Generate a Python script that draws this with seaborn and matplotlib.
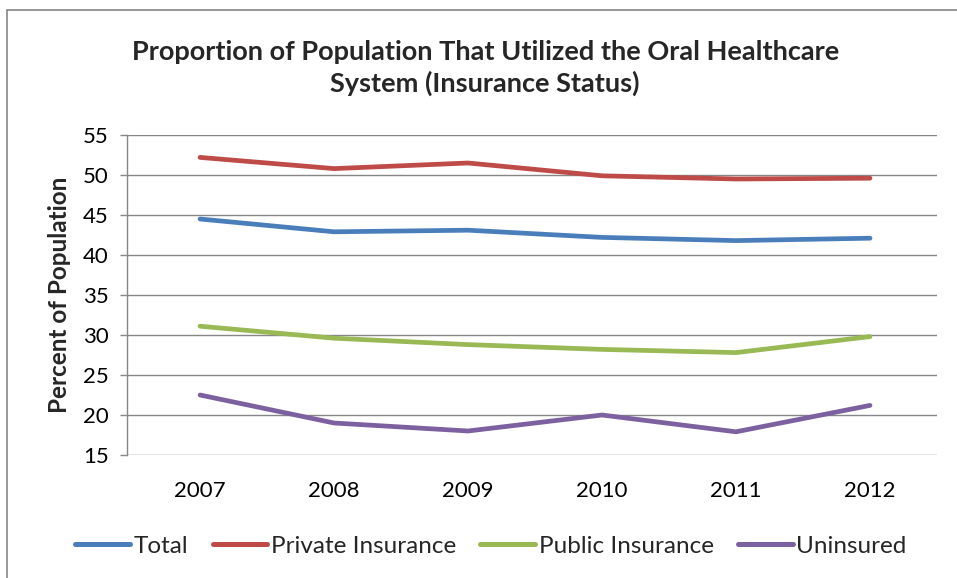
import matplotlib
matplotlib.use("Agg")
import matplotlib.pyplot as plt
import seaborn as sns
import pandas as pd
from matplotlib.patches import Rectangle
from matplotlib.lines import Line2D

years = ["2007", "2008", "2009", "2010", "2011", "2012"]
total = [44.5, 42.9, 43.1, 42.2, 41.8, 42.1]
private = [52.2, 50.8, 51.5, 49.9, 49.5, 49.6]
public = [31.1, 29.6, 28.8, 28.2, 27.8, 29.8]
uninsured = [22.5, 19.0, 18.0, 20.0, 17.9, 21.2]

series_names = ["Total", "Private Insurance", "Public Insurance", "Uninsured"]
colors = ["#4A7EBB", "#BE4B48", "#98B954", "#7D60A0"]

rows = []
for name, vals in zip(series_names, [total, private, public, uninsured]):
    for y, v in zip(years, vals):
        rows.append({"Year": y, "Value": v, "Series": name})
df = pd.DataFrame(rows)

sns.set_theme(style="white")
plt.rcParams["font.family"] = ["Lato", "DejaVu Sans"]

fig = plt.figure(figsize=(9.57, 5.78), dpi=100)
ax = fig.add_axes([127/957, 1-455/578, (937-127)/957, (455-135)/578])

sns.lineplot(data=df, x="Year", y="Value", hue="Series", palette=colors,
             hue_order=series_names, linewidth=3.4, ax=ax, legend=False,
             solid_capstyle="round")

ax.set_ylim(15, 55)
ax.set_yticks(range(15, 56, 5))
ax.set_xlim(-0.545, 5.5)
ax.grid(axis="y", color="#868686", linewidth=1.0)
ax.set_axisbelow(True)
for s in ["top", "right", "bottom"]:
    ax.spines[s].set_visible(False)
ax.spines["left"].set_color("#868686")
ax.spines["left"].set_linewidth(1.0)
ax.tick_params(axis="y", which="major", left=True, length=5, width=1.0,
               color="#868686", labelsize=16, pad=8, labelcolor="black")
ax.tick_params(axis="x", bottom=False, labelsize=16, pad=13, labelcolor="black")
ax.set_xlabel("")
ax.set_ylabel("Percent of Population", fontsize=17.5, fontweight="bold", labelpad=9)

fig.text(0.507, 1-68/578, "Proportion of Population That Utilized the Oral Healthcare\nSystem (Insurance Status)",
         ha="center", va="center", fontsize=19.5, fontweight="bold", linespacing=1.34)

handles = [Line2D([0], [0], color=c, linewidth=3.6, solid_capstyle="round") for c in colors]
fig.legend(handles, series_names, loc="center", bbox_to_anchor=(0.513, 1-546/578),
           ncol=4, frameon=False, fontsize=17.5, handlelength=2.25,
           handletextpad=0.15, columnspacing=1.0)

fig.add_artist(Rectangle((7/957, -0.05), 1.1, 1-10/578+0.05, transform=fig.transFigure,
                         fill=False, edgecolor="#868686", linewidth=1.2))

fig.savefig("out.png", dpi=100)
